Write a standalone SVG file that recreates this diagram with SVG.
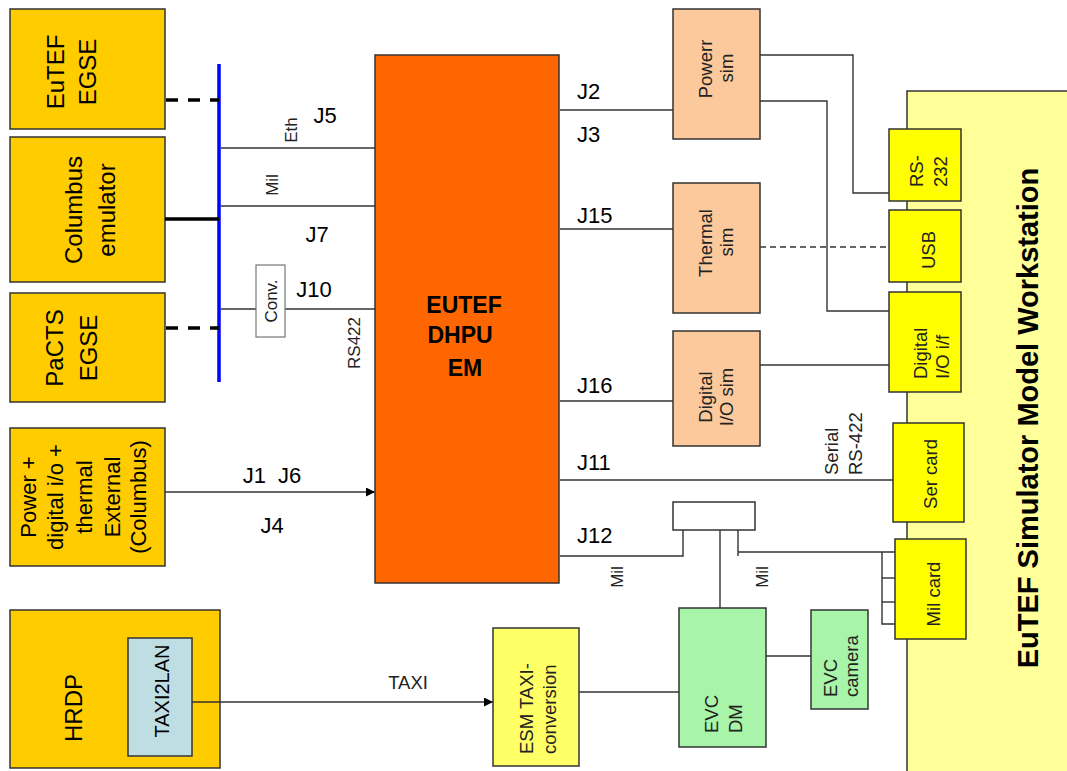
<svg xmlns="http://www.w3.org/2000/svg" width="1067" height="771" viewBox="0 0 1067 771">
<style>
text{font-family:"Liberation Sans",Arial,sans-serif;fill:#000}
.box{stroke:#333;stroke-width:1.5}
.gold{fill:#FFCC00}
.peach{fill:#FBC99B}
.card{fill:#FFFF00}
.green{fill:#A8F4A8}
.ln{fill:none;stroke:#333;stroke-width:1.4}
.big{font-size:24px}
.j{font-size:22px}
.sm{font-size:18.5px;fill:#222}
.lab{font-size:17px;fill:#222}
</style>
<defs>
<marker id="arr" viewBox="0 0 10 10" refX="10" refY="5" markerWidth="9" markerHeight="9" markerUnits="userSpaceOnUse" orient="auto"><path d="M0,0 L10,5 L0,10 z" fill="#000"/></marker>
</defs>

<g id="workstation">
<rect x="907" y="91" width="170" height="700" fill="#FFFF99" class="box"/>
<text transform="translate(1038,418) rotate(-90)" text-anchor="middle" font-size="29" font-weight="bold">EuTEF Simulator Model Workstation</text>
</g>

<g id="eutef-egse">
<rect x="10" y="9" width="155" height="120" class="box gold"/>
<text class="big" transform="translate(64,72) rotate(-90)" text-anchor="middle">EuTEF</text>
<text class="big" transform="translate(96,72) rotate(-90)" text-anchor="middle">EGSE</text>
</g>
<g id="columbus-emulator">
<rect x="10" y="137" width="155" height="145" class="box gold"/>
<text class="big" transform="translate(82,210) rotate(-90)" text-anchor="middle">Columbus</text>
<text class="big" transform="translate(115,210) rotate(-90)" text-anchor="middle">emulator</text>
</g>
<g id="pacts-egse">
<rect x="10" y="293" width="155" height="109" class="box gold"/>
<text class="big" transform="translate(63,348) rotate(-90)" text-anchor="middle">PaCTS</text>
<text class="big" transform="translate(97,348) rotate(-90)" text-anchor="middle">EGSE</text>
</g>
<g id="power-external">
<rect x="10" y="428" width="155" height="138" class="box gold"/>
<text font-size="22" transform="translate(36,497) rotate(-90)" text-anchor="middle">Power +</text>
<text font-size="22" transform="translate(63,497) rotate(-90)" text-anchor="middle">digital i/o +</text>
<text font-size="22" transform="translate(92,497) rotate(-90)" text-anchor="middle">thermal</text>
<text font-size="22" transform="translate(120,497) rotate(-90)" text-anchor="middle">External</text>
<text font-size="22" transform="translate(146,497) rotate(-90)" text-anchor="middle">(Columbus)</text>
</g>
<g id="hrdp">
<rect x="10" y="610" width="210" height="158" class="box gold"/>
<text class="big" transform="translate(82,708) rotate(-90)" text-anchor="middle">HRDP</text>
<rect x="128" y="638" width="64" height="118" fill="#BFDEE4" class="box"/>
<text font-size="20" fill="#333" transform="translate(169,691) rotate(-90)" text-anchor="middle">TAXI2LAN</text>
</g>

<g id="connectors">
<line x1="219" y1="64" x2="219" y2="382" stroke="#0000FF" stroke-width="3.5"/>
<line x1="166" y1="100" x2="219" y2="100" stroke="#000" stroke-width="3.5" stroke-dasharray="12 10"/>
<line x1="166" y1="328" x2="219" y2="328" stroke="#000" stroke-width="3.5" stroke-dasharray="12 10"/>
<line x1="165" y1="219" x2="219" y2="219" stroke="#000" stroke-width="3.5"/>
<line x1="221" y1="148" x2="375" y2="148" class="ln"/>
<line x1="221" y1="206" x2="375" y2="206" class="ln"/>
<line x1="221" y1="309" x2="375" y2="309" class="ln"/>
<line x1="165" y1="492" x2="375" y2="492" class="ln" stroke="#000" marker-end="url(#arr)"/>
<line x1="192" y1="702" x2="493" y2="702" class="ln" stroke="#000" marker-end="url(#arr)"/>
<line x1="560" y1="110" x2="673" y2="110" class="ln"/>
<line x1="560" y1="229" x2="673" y2="229" class="ln"/>
<line x1="560" y1="401" x2="673" y2="401" class="ln"/>
<line x1="560" y1="480" x2="893" y2="480" class="ln"/>
<polyline points="760,55 853,55 853,193 889,193" class="ln"/>
<polyline points="760,101 827,101 827,311 889,311" class="ln"/>
<line x1="760" y1="247" x2="889" y2="247" class="ln" stroke-dasharray="6 4"/>
<line x1="760" y1="365" x2="889" y2="365" class="ln"/>
<polyline points="560,556 683,556 683,530" class="ln"/>
<line x1="720" y1="530" x2="720" y2="608" class="ln"/>
<polyline points="738,530 738,556" class="ln"/>
<line x1="738" y1="552" x2="896" y2="552" class="ln"/>
<polyline points="896,624 882,624 882,552" class="ln"/>
<line x1="882" y1="578" x2="896" y2="578" class="ln"/>
<line x1="882" y1="602" x2="896" y2="602" class="ln"/>
<line x1="766" y1="656" x2="811" y2="656" class="ln"/>
<line x1="579" y1="692" x2="679" y2="692" class="ln"/>
</g>

<g id="conv">
<rect x="256" y="265" width="29" height="72" fill="#fff" stroke="#777" stroke-width="1.2"/>
<text class="lab" fill="#444" transform="translate(277,301) rotate(-90)" text-anchor="middle">Conv.</text>
</g>

<g id="dhpu">
<rect x="375" y="55" width="184" height="528" fill="#FF6600" class="box"/>
<text font-size="23" font-weight="bold" x="464" y="313" text-anchor="middle">EUTEF</text>
<text font-size="23" font-weight="bold" x="460" y="343" text-anchor="middle">DHPU</text>
<text font-size="23" font-weight="bold" x="465" y="376" text-anchor="middle">EM</text>
</g>

<g id="power-sim">
<rect x="673" y="9" width="87" height="130" class="box peach"/>
<text class="sm" transform="translate(712,69) rotate(-90)" text-anchor="middle">Powerr</text>
<text class="sm" transform="translate(733,68) rotate(-90)" text-anchor="middle">sim</text>
</g>
<g id="thermal-sim">
<rect x="673" y="183" width="87" height="130" class="box peach"/>
<text class="sm" transform="translate(712,243) rotate(-90)" text-anchor="middle">Thermal</text>
<text class="sm" transform="translate(733,242) rotate(-90)" text-anchor="middle">sim</text>
</g>
<g id="digital-io-sim">
<rect x="673" y="331" width="87" height="115" class="box peach"/>
<text class="sm" transform="translate(712,397) rotate(-90)" text-anchor="middle">Digital</text>
<text class="sm" transform="translate(733,397) rotate(-90)" text-anchor="middle">I/O sim</text>
</g>

<g id="rs232">
<rect x="889" y="129" width="72" height="72" class="box card"/>
<text class="sm" transform="translate(923,187) rotate(-90)">RS-</text>
<text class="sm" transform="translate(947,187) rotate(-90)">232</text>
</g>
<g id="usb">
<rect x="889" y="210" width="72" height="72" class="box card"/>
<text class="sm" transform="translate(935,250) rotate(-90)" text-anchor="middle">USB</text>
</g>
<g id="digital-io-if">
<rect x="889" y="292" width="72" height="100" class="box card"/>
<text class="sm" transform="translate(927,379) rotate(-90)">Digital</text>
<text class="sm" transform="translate(949,379) rotate(-90)">I/O i/f</text>
</g>
<g id="ser-card">
<rect x="893" y="423" width="71" height="99" class="box card"/>
<text class="sm" transform="translate(937,474) rotate(-90)" text-anchor="middle">Ser card</text>
</g>
<g id="mil-card">
<rect x="895" y="539" width="71" height="100" class="box card"/>
<text class="sm" transform="translate(940,594) rotate(-90)" text-anchor="middle">Mil card</text>
</g>

<g id="mil-coupler">
<rect x="673" y="502" width="82" height="28" fill="#fff" class="box"/>
</g>

<g id="evc-dm">
<rect x="679" y="608" width="87" height="139" class="box green"/>
<text class="sm" transform="translate(718,733) rotate(-90)">EVC</text>
<text class="sm" transform="translate(742,733) rotate(-90)">DM</text>
</g>
<g id="evc-camera">
<rect x="811" y="610" width="57" height="99" class="box green"/>
<text class="sm" transform="translate(837,697) rotate(-90)">EVC</text>
<text class="sm" transform="translate(858,697) rotate(-90)">camera</text>
</g>
<g id="esm-taxi">
<rect x="493" y="628" width="86" height="138" fill="#FFFF66" class="box"/>
<text class="sm" transform="translate(533,754) rotate(-90)">ESM TAXI-</text>
<text class="sm" transform="translate(556,754) rotate(-90)">conversion</text>
</g>

<g id="labels">
<text class="lab" transform="translate(297,130) rotate(-90)" text-anchor="middle">Eth</text>
<text class="lab" transform="translate(278,185) rotate(-90)" text-anchor="middle">Mil</text>
<text class="lab" fill="#444" font-size="18" transform="translate(360,343) rotate(-90)" text-anchor="middle">RS422</text>
<text class="j" x="325" y="123" text-anchor="middle">J5</text>
<text class="j" x="317" y="242" text-anchor="middle">J7</text>
<text class="j" x="314" y="297" text-anchor="middle">J10</text>
<text class="j" x="272" y="483" text-anchor="middle" xml:space="preserve">J1  J6</text>
<text class="j" x="272" y="533" text-anchor="middle">J4</text>
<text class="j" x="577" y="99">J2</text>
<text class="j" x="577" y="142">J3</text>
<text class="j" x="577" y="223">J15</text>
<text class="j" x="577" y="393">J16</text>
<text class="j" x="577" y="470">J11</text>
<text class="j" x="577" y="543">J12</text>
<text class="sm" transform="translate(838,475) rotate(-90)">Serial</text>
<text class="sm" transform="translate(862,475) rotate(-90)">RS-422</text>
<text class="lab" transform="translate(623,577) rotate(-90)" text-anchor="middle">Mil</text>
<text class="lab" transform="translate(768,577) rotate(-90)" text-anchor="middle">Mil</text>
<text class="sm" x="408" y="689" text-anchor="middle">TAXI</text>
</g>
</svg>
